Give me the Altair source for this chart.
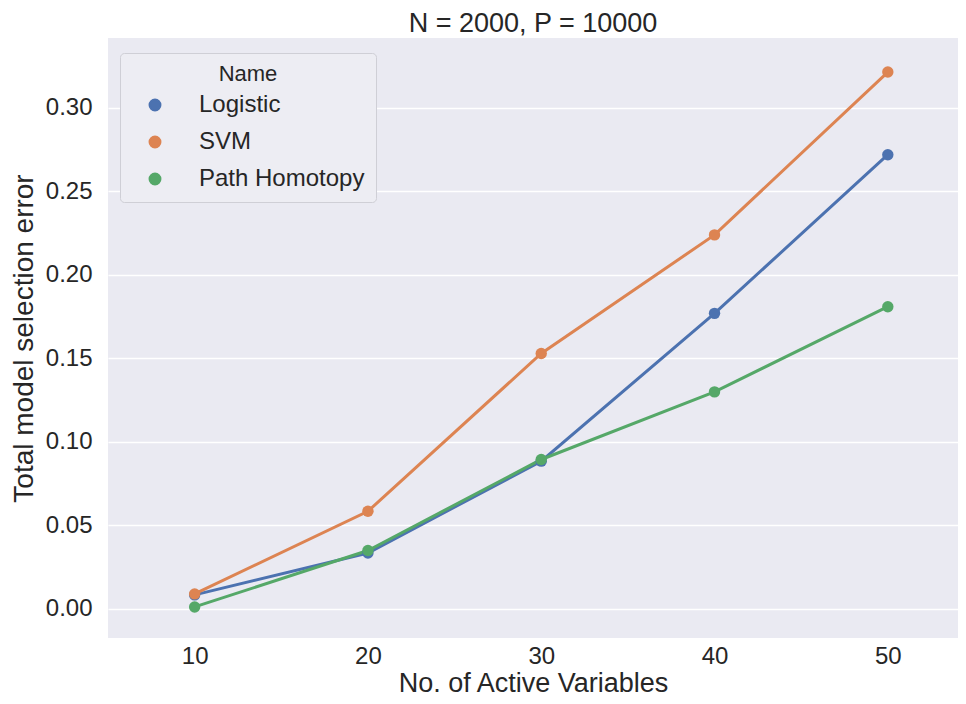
import altair as alt
import pandas as pd

active_vars = [10, 20, 30, 40, 50]
names = ["Logistic", "SVM", "Path Homotopy"]
logistic = [0.0084, 0.0335, 0.0885, 0.1770, 0.2720]
svm = [0.0090, 0.0585, 0.1530, 0.2240, 0.3215]
path_homotopy = [0.0012, 0.0350, 0.0895, 0.1300, 0.1810]
colors = ["#4C72B0", "#DD8452", "#55A868"]

rows = []
for name, vals in zip(names, [logistic, svm, path_homotopy]):
    for x, v in zip(active_vars, vals):
        rows.append({"vars": x, "err": v, "Name": name})
df = pd.DataFrame(rows)

font = "Liberation Sans"
ink = "#262626"

x = alt.X("vars:Q", title="No. of Active Variables",
          scale=alt.Scale(domain=[5, 54.05], nice=False, zero=False),
          axis=alt.Axis(values=active_vars, format="d", grid=False,
                        labelPadding=6, titlePadding=2, titleFontSize=27))
y = alt.Y("err:Q", title="Total model selection error",
          scale=alt.Scale(domain=[-0.0174, 0.3419], nice=False, zero=False),
          axis=alt.Axis(values=[0, 0.05, 0.10, 0.15, 0.20, 0.25, 0.30], format=".2f",
                        labelPadding=16, titlePadding=7, titleFontSize=28))
color = alt.Color("Name:N", scale=alt.Scale(domain=names, range=colors), title="Name")

base = alt.Chart(df).encode(x=x, y=y, color=color)
lines = base.mark_line(strokeWidth=3)
points = base.mark_point(filled=True, size=130, opacity=1, shape="circle")

chart = alt.layer(lines, points).properties(
    width=850, height=600,
    autosize=alt.AutoSizeParams(type="none"),
    padding={"left": 100, "top": 30, "right": 0, "bottom": 58},
    title=alt.Title("N = 2000, P = 10000", fontSize=27, fontWeight="normal",
                    color=ink, font=font, offset=0),
).configure_view(
    fill="#EAEAF2", stroke=None,
).configure_axis(
    domain=False, ticks=False, gridColor="#FFFFFF", gridWidth=1.3,
    labelFontSize=24, labelColor=ink, labelFont=font,
    titleColor=ink, titleFont=font, titleFontWeight="normal",
).configure_legend(
    orient="none", legendX=12, legendY=15,
    titleAnchor="middle", titleFontSize=22, titleFontWeight="normal",
    titleColor=ink, titleFont=font, titlePadding=7,
    labelFontSize=24, labelColor=ink, labelFont=font, labelLimit=400,
    labelOffset=32, symbolOffset=12, symbolSize=130, symbolType="circle",
    rowPadding=13, padding=11, fillColor="#EDEDF3",
    strokeColor="#CFCFD6", cornerRadius=4,
)

chart.save("out.html", embed_options={"renderer": "svg", "actions": False})
